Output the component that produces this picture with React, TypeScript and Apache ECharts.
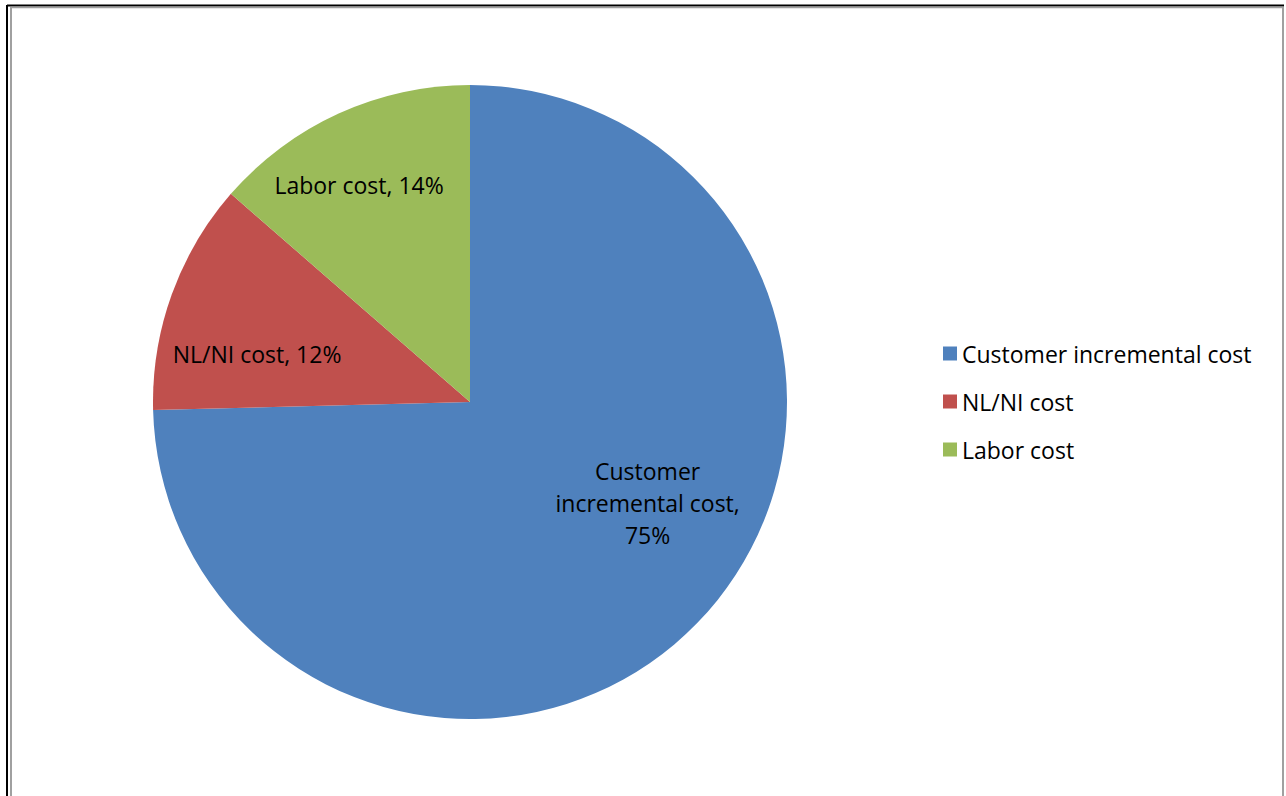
import React, { useEffect, useRef } from "react";
import * as echarts from "echarts";

const categories = ["Customer incremental cost", "NL/NI cost", "Labor cost"];
const values = [74.6, 11.8, 13.6];
const colors = ["#4F81BD", "#C0504D", "#9BBB59"];
// label nudges (px) relative to the slice's inside-label anchor, to match Excel placement
const labelNudges = [
  [62, -12],
  [-61, 7],
  [-44, -70],
];

const FONT = "'Open Sans', Lato, sans-serif";

export default function App() {
  const ref = useRef<HTMLDivElement>(null);
  useEffect(() => {
    document.body.style.margin = "0";
    const chart = echarts.init(ref.current!, null, { renderer: "svg" });
    chart.setOption({
      animation: false,
      backgroundColor: "#ffffff",
      legend: {
        orient: "vertical",
        left: 938,
        top: 337,
        itemWidth: 14,
        itemHeight: 14,
        itemGap: 25,
        icon: "rect",
        data: categories,
        textStyle: { fontFamily: FONT, fontSize: 23, color: "#000", padding: [0, 0, 0, 0] },
      },
      graphic: [
        { type: "line", shape: { x1: 7, y1: 5.5, x2: 1284, y2: 5.5 }, style: { stroke: "#000", lineWidth: 2 } },
        { type: "line", shape: { x1: 7, y1: 5, x2: 7, y2: 796 }, style: { stroke: "#000", lineWidth: 2 } },
        { type: "line", shape: { x1: 11, y1: 7.5, x2: 1283, y2: 7.5 }, style: { stroke: "#a0a0a0", lineWidth: 1.5 } },
        { type: "line", shape: { x1: 11, y1: 7, x2: 11, y2: 796 }, style: { stroke: "#a0a0a0", lineWidth: 2 } },
        { type: "line", shape: { x1: 1283, y1: 7, x2: 1283, y2: 796 }, style: { stroke: "#a0a0a0", lineWidth: 2 } },
      ],
      series: [
        {
          type: "pie",
          center: [470, 402],
          radius: 317,
          startAngle: 90,
          clockwise: true,
          avoidLabelOverlap: false,
          label: {
            show: true,
            position: "inside",
            fontFamily: FONT,
            fontSize: 23,
            lineHeight: 32,
            color: "#000",
            align: "center",
            formatter: (p: any) => {
              const pct = Math.round(p.percent);
              if (p.dataIndex === 0) {
                return `${p.name.replace("Customer ", "Customer\n")},\n${pct}%`;
              }
              return `${p.name}, ${pct}%`;
            },
          },
          labelLayout: (p: any) => {
            const n = labelNudges[p.dataIndex];
            return { dx: n[0], dy: n[1] };
          },
          labelLine: { show: false },
          itemStyle: { borderWidth: 0 },
          emphasis: { disabled: true },
          data: categories.map((c, i) => ({ name: c, value: values[i], itemStyle: { color: colors[i] } })),
        },
      ],
    });
    return () => chart.dispose();
  }, []);
  return <div ref={ref} style={{ position: "absolute", left: 0, top: 0, width: 1286, height: 796 }} />;
}
